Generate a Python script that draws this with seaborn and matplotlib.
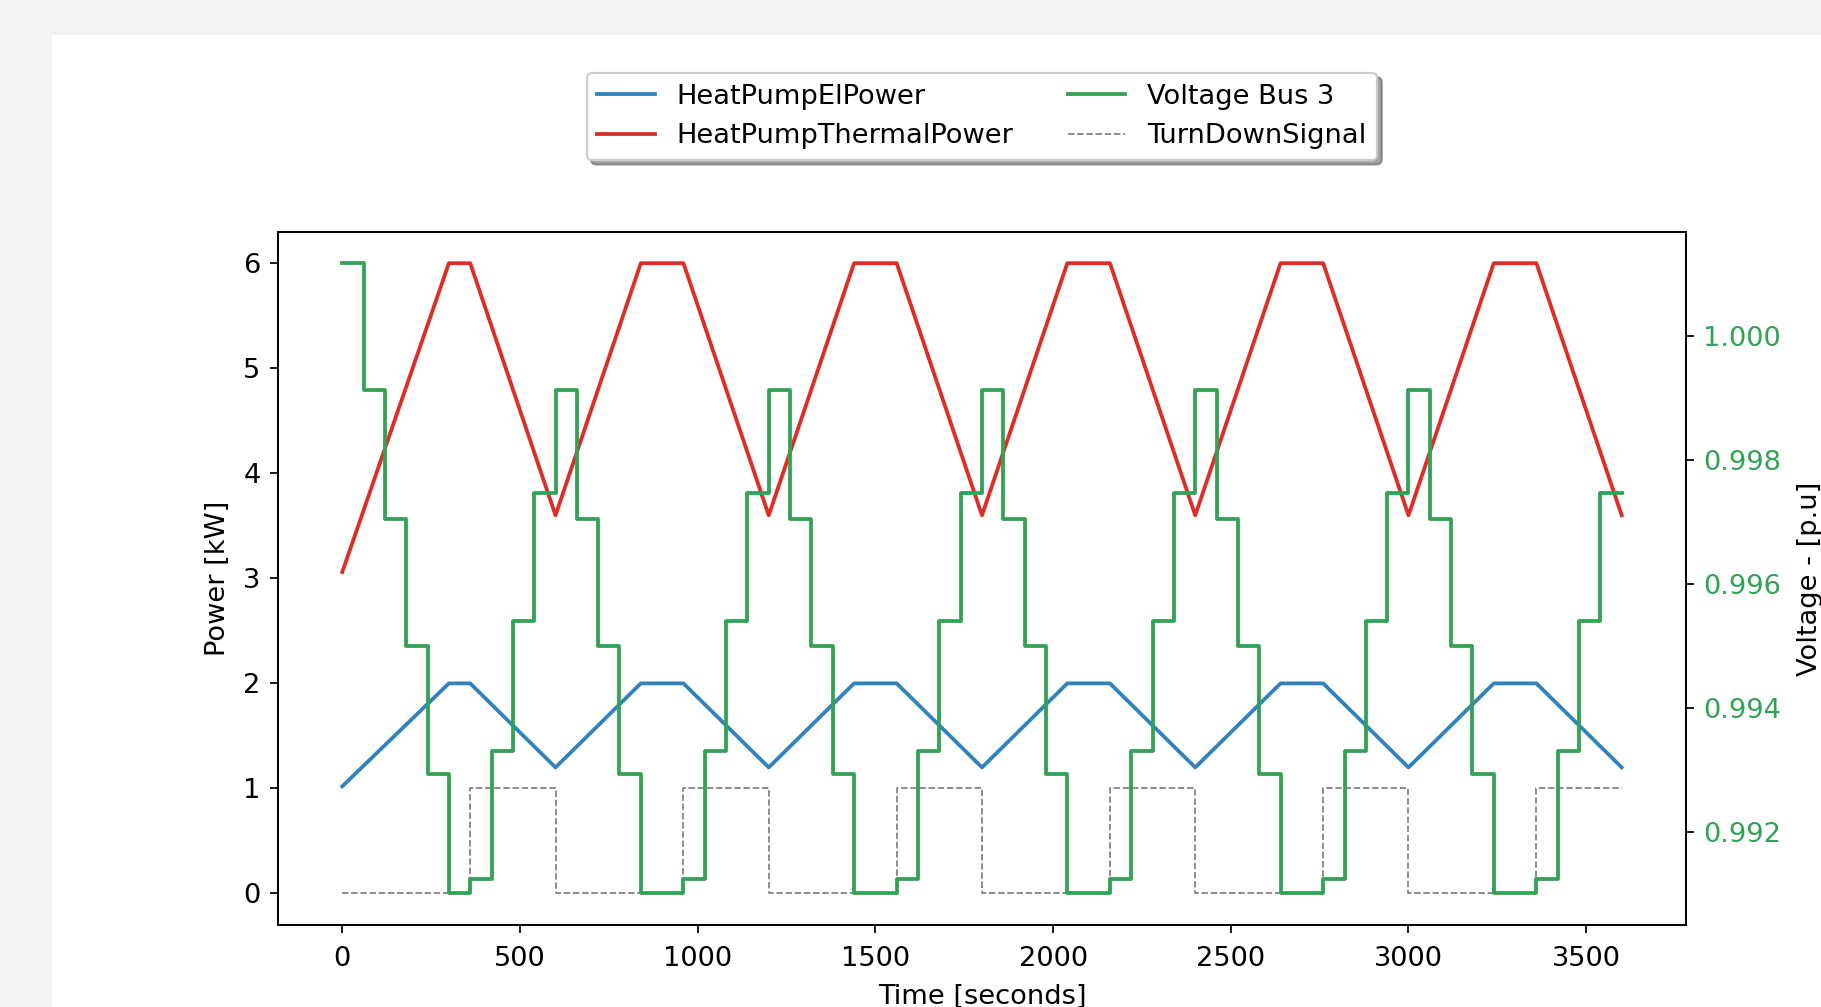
import numpy as np
import pandas as pd
import matplotlib
matplotlib.use('Agg')
import matplotlib.pyplot as plt
from matplotlib.patches import Rectangle
import seaborn as sns

plt.rcParams['font.family'] = ['DejaVu Sans']
plt.rcParams['font.size'] = 12.6
plt.rcParams['xtick.major.pad'] = 6.0
plt.rcParams['ytick.major.pad'] = 4.5
plt.rcParams['xtick.major.size'] = 3.7
plt.rcParams['ytick.major.size'] = 3.7
plt.rcParams['axes.labelpad'] = 5.5
plt.rcParams['lines.linewidth'] = 1.75

# heat pump power, corner points of the ramps (seconds, kW)
power_time = [0, 300, 360, 600, 840, 960, 1200, 1440, 1560, 1800,
              2040, 2160, 2400, 2640, 2760, 3000, 3240, 3360, 3600]
el_power = [1.02, 2.0, 2.0, 1.2, 2.0, 2.0, 1.2, 2.0, 2.0, 1.2,
            2.0, 2.0, 1.2, 2.0, 2.0, 1.2, 2.0, 2.0, 1.2]
thermal_power = [3.06, 6.0, 6.0, 3.6, 6.0, 6.0, 3.6, 6.0, 6.0, 3.6,
                 6.0, 6.0, 3.6, 6.0, 6.0, 3.6, 6.0, 6.0, 3.6]

# turn down signal (step changes)
signal_time = [0, 360, 600, 960, 1200, 1560, 1800, 2160, 2400, 2760, 3000, 3360, 3600]
signal = [0, 1, 0, 1, 0, 1, 0, 1, 0, 1, 0, 1, 1]

# voltage at bus 3 (step changes, p.u.)
volt_time = [0, 60, 120, 180, 240, 300, 360, 420, 480, 540,
             600, 660, 720, 780, 840, 960, 1020, 1080, 1140,
             1200, 1260, 1320, 1380, 1440, 1560, 1620, 1680, 1740,
             1800, 1860, 1920, 1980, 2040, 2160, 2220, 2280, 2340,
             2400, 2460, 2520, 2580, 2640, 2760, 2820, 2880, 2940,
             3000, 3060, 3120, 3180, 3240, 3360, 3420, 3480, 3540,
             3600]
voltage = [1.00117, 0.99912, 0.99705, 0.99500, 0.99293, 0.99101, 0.99124, 0.99331, 0.99540, 0.99747,
           0.99912, 0.99705, 0.99500, 0.99293, 0.99101, 0.99124, 0.99331, 0.99540, 0.99747,
           0.99912, 0.99705, 0.99500, 0.99293, 0.99101, 0.99124, 0.99331, 0.99540, 0.99747,
           0.99912, 0.99705, 0.99500, 0.99293, 0.99101, 0.99124, 0.99331, 0.99540, 0.99747,
           0.99912, 0.99705, 0.99500, 0.99293, 0.99101, 0.99124, 0.99331, 0.99540, 0.99747,
           0.99912, 0.99705, 0.99500, 0.99293, 0.99101, 0.99124, 0.99331, 0.99540, 0.99747,
           0.99747]

blue = '#3182bd'
red = '#de2d26'
green = '#31a354'

fig = plt.figure(figsize=(1821/156, 1007/156), dpi=156, facecolor='#f2f2f2')
fig.add_artist(Rectangle((52/1821, 0), 1, 1 - 35/1007, transform=fig.transFigure,
                         facecolor='white', edgecolor='none', zorder=-10))

ax = fig.add_axes([0.15283, 0.08143, 0.77287, 0.68848])
sns.lineplot(x=power_time, y=el_power, color=blue, label='HeatPumpElPower', ax=ax)
sns.lineplot(x=power_time, y=thermal_power, color=red, label='HeatPumpThermalPower', ax=ax)
sns.lineplot(x=signal_time, y=signal, color='grey', linestyle='--', linewidth=0.8,
             drawstyle='steps-post', label='TurnDownSignal', ax=ax)
ax.set_xlabel('Time [seconds]')
ax.set_ylabel('Power [kW]')

ax2 = ax.twinx()
sns.lineplot(x=volt_time, y=voltage, color=green, drawstyle='steps-post',
             label='Voltage Bus 3', ax=ax2)
ax2.set_ylabel('Voltage - [p.u]', labelpad=7)
ax2.tick_params(axis='y', labelcolor=green)
ax2.ticklabel_format(axis='y', useOffset=False)

for a in (ax, ax2):
    if a.get_legend() is not None:
        a.get_legend().remove()

h1, l1 = ax.get_legend_handles_labels()
h2, l2 = ax2.get_legend_handles_labels()
handles = [h1[0], h1[1], h2[0], h1[2]]
labels = [l1[0], l1[1], l2[0], l1[2]]
ax2.legend(handles, labels, ncol=2, loc='upper center', bbox_to_anchor=(0.5, 1.2293),
           borderaxespad=0, shadow=True, fancybox=True, fontsize=12.6,
           handlelength=2.1, columnspacing=2.0)

fig.savefig('out.png', dpi=156, facecolor=fig.get_facecolor())
